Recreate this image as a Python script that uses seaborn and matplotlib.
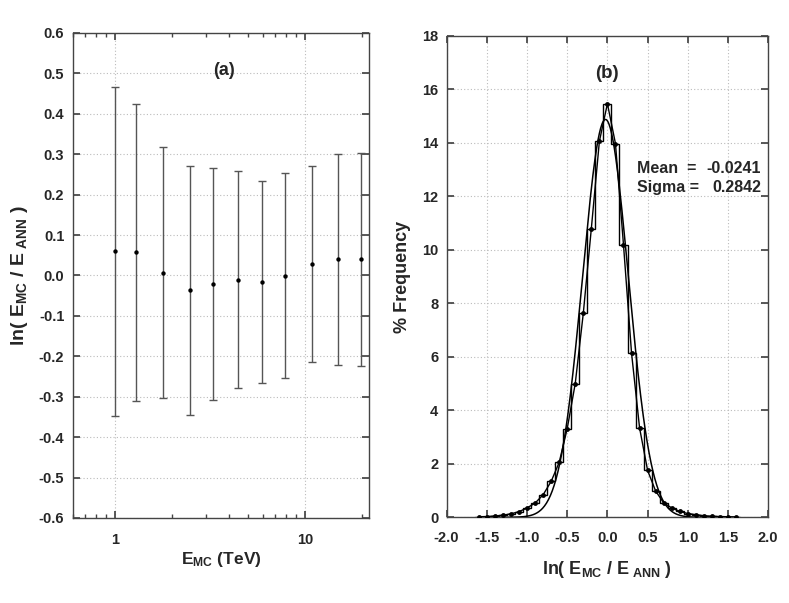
import matplotlib
matplotlib.use("Agg")
import matplotlib.pyplot as plt
import matplotlib.ticker as mticker
import numpy as np
import pandas as pd
import seaborn as sns

# (a) mean of ln(E_MC/E_ANN) per energy bin, with asymmetric spread
e_mc = [1.0, 1.3, 1.8, 2.5, 3.3, 4.45, 5.95, 7.9, 10.9, 14.85, 19.8]
mean_ratio = [0.061, 0.057, 0.007, -0.037, -0.021, -0.010, -0.017, -0.001, 0.029, 0.040, 0.040]
upper = [0.466, 0.425, 0.318, 0.271, 0.266, 0.259, 0.233, 0.253, 0.271, 0.301, 0.303]
lower = [-0.347, -0.310, -0.304, -0.346, -0.308, -0.279, -0.267, -0.253, -0.213, -0.221, -0.223]

# (b) histogram of ln(E_MC/E_ANN), bin centres and % frequency
bin_centres = [-1.6, -1.5, -1.4, -1.3, -1.2, -1.1, -1.0, -0.9, -0.8, -0.7, -0.6,
               -0.5, -0.4, -0.3, -0.2, -0.1, 0.0, 0.1, 0.2, 0.3, 0.4, 0.5,
               0.6, 0.7, 0.8, 0.9, 1.0, 1.1, 1.2, 1.3, 1.4, 1.5, 1.6]
freq = [0.02, 0.03, 0.05, 0.08, 0.13, 0.21, 0.35, 0.53, 0.84, 1.34, 2.05,
        3.31, 5.00, 7.62, 10.79, 14.05, 15.46, 13.97, 10.18, 6.14, 3.34, 1.75,
        0.98, 0.54, 0.35, 0.22, 0.14, 0.10, 0.06, 0.04, 0.03, 0.02, 0.01]
bin_width = 0.1

# gaussian fit shown in panel (b)
fit_mean = -0.0241
fit_sigma = 0.2842
fit_peak = 14.87

sns.set_theme(style="ticks")
plt.rcParams["font.family"] = ["Liberation Sans", "DejaVu Sans"]
plt.rcParams["font.weight"] = "bold"
plt.rcParams["mathtext.fontset"] = "custom"
plt.rcParams["mathtext.rm"] = "Liberation Sans:bold"
plt.rcParams["mathtext.it"] = "Liberation Sans:bold"
plt.rcParams["mathtext.bf"] = "Liberation Sans:bold"

EDGE = "#444444"
GRID = dict(color="#bbbbbb", linestyle=(0, (1, 2)), linewidth=0.8)

fig = plt.figure(figsize=(7.89, 6.03), dpi=100)
ax1 = fig.add_axes([0.0921, 0.141, 0.3759, 0.8043])
ax2 = fig.add_axes([0.566, 0.1421, 0.4077, 0.7987])


def style_axes(ax, xpad=10):
    for sp in ax.spines.values():
        sp.set_color(EDGE)
        sp.set_linewidth(1.0)
    ax.tick_params(which="both", direction="in", top=True, right=True,
                   color=EDGE, labelsize=10.5, pad=6)
    ax.tick_params(axis="x", which="both", pad=xpad)
    ax.tick_params(which="major", length=5)
    ax.tick_params(which="minor", length=3)
    for lab in ax.get_xticklabels() + ax.get_yticklabels():
        lab.set_fontweight("bold")


# ---- panel (a)
df_a = pd.DataFrame({"e": e_mc, "m": mean_ratio, "up": upper, "lo": lower})
yerr = [df_a["m"] - df_a["lo"], df_a["up"] - df_a["m"]]
ax1.errorbar(df_a["e"], df_a["m"], yerr=yerr, fmt="none", ecolor="#555555",
             elinewidth=1.0, capsize=3, capthick=1.0, zorder=2)
sns.scatterplot(data=df_a, x="e", y="m", ax=ax1, color="black", s=10,
                edgecolor="black", linewidth=0, zorder=3)
ax1.set_xscale("log")
ax1.set_xlim(0.6, 21.8)
ax1.set_ylim(-0.6, 0.6)
ax1.yaxis.set_major_locator(mticker.MultipleLocator(0.1))
ax1.yaxis.set_major_formatter(mticker.FormatStrFormatter("%.1f"))
ax1.xaxis.set_major_locator(mticker.FixedLocator([1, 10]))
ax1.xaxis.set_major_formatter(mticker.FixedFormatter(["1", "10"]))
ax1.xaxis.set_minor_locator(mticker.LogLocator(base=10, subs=np.arange(2, 10)))
ax1.xaxis.set_minor_formatter(mticker.NullFormatter())
ax1.grid(True, which="major", **GRID)
ax1.set_xlabel(r"E$_{\rm MC}$ (TeV)", fontsize=12.5, fontweight="bold", labelpad=2)
ax1.set_ylabel(r"ln( E$_{\rm MC}$ / E$_{\rm \ ANN}$ )", fontsize=14,
               fontweight="bold", labelpad=6)
ax1.text(0.51, 0.922, "(a)", transform=ax1.transAxes, ha="center", va="center",
         fontsize=13, fontweight="bold")
style_axes(ax1, xpad=11)

# ---- panel (b)
centres = np.array(bin_centres)
edges = np.append(centres - bin_width / 2, centres[-1] + bin_width / 2)
ax2.stairs(freq, edges, baseline=0, color="black", linewidth=1.0, zorder=2)
df_b = pd.DataFrame({"x": bin_centres, "f": freq})
sns.lineplot(data=df_b, x="x", y="f", ax=ax2, color="black", linewidth=1.0,
             marker="o", markersize=3.5, markeredgewidth=0, zorder=3)
xs = np.linspace(-1.6, 1.6, 400)
df_fit = pd.DataFrame({"x": xs,
                       "g": fit_peak * np.exp(-0.5 * ((xs - fit_mean) / fit_sigma) ** 2)})
sns.lineplot(data=df_fit, x="x", y="g", ax=ax2, color="black", linewidth=1.1, zorder=3)
ax2.set_xlim(-2.0, 2.0)
ax2.set_ylim(0, 18)
ax2.xaxis.set_major_locator(mticker.MultipleLocator(0.5))
ax2.xaxis.set_major_formatter(mticker.FormatStrFormatter("%.1f"))
ax2.yaxis.set_major_locator(mticker.MultipleLocator(2))
ax2.grid(True, which="major", **GRID)
ax2.set_xlabel(r"ln( E$_{\rm MC}$ / E$_{\rm \ ANN}$ )", fontsize=13,
               fontweight="bold", labelpad=10)
ax2.set_ylabel("% Frequency", fontsize=13, fontweight="bold", labelpad=8)
ax2.text(0.497, 0.922, "(b)", transform=ax2.transAxes, ha="center", va="center",
         fontsize=13.5, fontweight="bold")
ax2.text(0.591, 0.724, "Mean  =", transform=ax2.transAxes, ha="left", va="center",
         fontsize=11.5, fontweight="bold")
ax2.text(0.978, 0.724, "-0.0241", transform=ax2.transAxes, ha="right", va="center",
         fontsize=11.5, fontweight="bold")
ax2.text(0.591, 0.684, "Sigma =", transform=ax2.transAxes, ha="left", va="center",
         fontsize=11.5, fontweight="bold")
ax2.text(0.978, 0.684, "0.2842", transform=ax2.transAxes, ha="right", va="center",
         fontsize=11.5, fontweight="bold")
style_axes(ax2, xpad=10)

fig.savefig("out.png", dpi=100, facecolor="white")
